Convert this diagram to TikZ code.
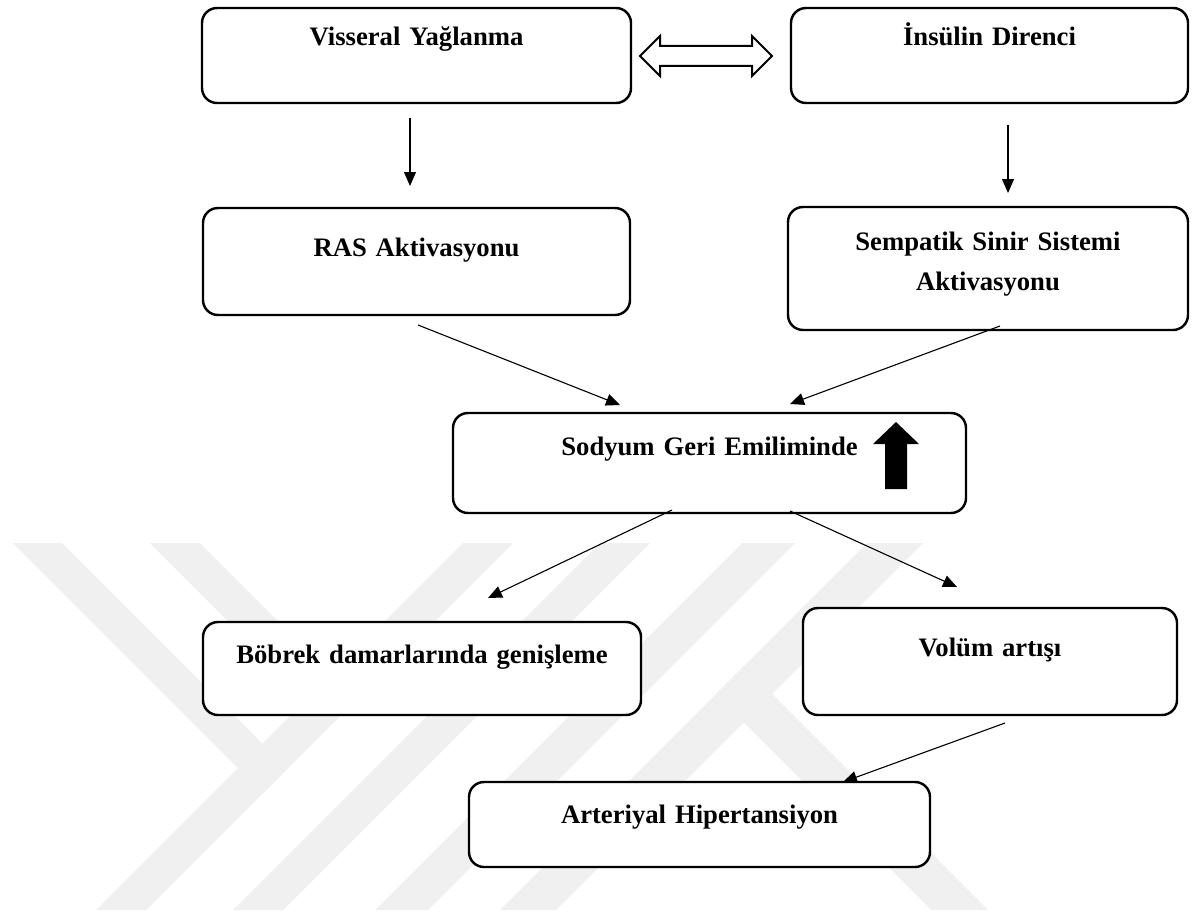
\documentclass[tikz,border=0pt]{standalone}
\usepackage{fontspec}
\setmainfont{Liberation Serif}
\usetikzlibrary{arrows.meta}

\begin{document}
\begin{tikzpicture}[x=0.45pt,y=-0.45pt,
  box/.style={draw, line width=1.1pt, rounded corners=6.75pt, fill=white, inner sep=0pt,
    anchor=base, align=center, font=\bfseries\fontsize{12pt}{18pt}\selectfont},
  link/.style={line width=0.5pt, -{Triangle[length=6.3pt,width=5.4pt]}},
  wm/.style={fill=black!6}]
  \fill[white] (0,0) rectangle (1192,914);
  \useasboundingbox (0,0) rectangle (1192,914);

  %% watermark stripes
  \begin{scope}
    \clip (0,543) rectangle (1192,910);
    \fill[wm] (463,543) -- (513,543) -- (146,910) -- (96,910) -- cycle;
    \fill[wm] (600,543) -- (650,543) -- (283,910) -- (233,910) -- cycle;
    \fill[wm] (742,543) -- (795,543) -- (428,910) -- (375,910) -- cycle;
    \fill[wm] (867,543) -- (923,543) -- (556,910) -- (500,910) -- cycle;
    \fill[wm] (13,543) -- (62,543) -- (287.5,768.5) -- (263,793) -- cycle;
    \fill[wm] (150,543) -- (200,543) -- (356.5,699.5) -- (331.5,724.5) -- cycle;
    \fill[wm] (715.5,694.5) -- (744,666) -- (988,910) -- (931,910) -- cycle;
  \end{scope}

  \node[box, text width=193.05pt, text height=17.1pt, text depth=25.65pt] (vis) at (416.5,46) {Visseral Yağlanma};
  \node[box, text width=178.65pt, text height=17.1pt, text depth=25.65pt] (ins) at (989.5,46) {İnsülin Direnci};
  \node[box, text width=192.15pt, text height=21.6pt, text depth=26.55pt] (ras) at (416.5,256) {RAS Aktivasyonu};
  \node[box, text width=180pt, text height=19.35pt, text depth=36pt] (sem) at (988,250) {Sempatik Sinir Sistemi\\Aktivasyonu};
  \node[box, text width=230.85pt, text height=18.9pt, text depth=26.1pt] (sod) at (709.5,455) {Sodyum Geri Emiliminde};
  \node[box, text width=197.1pt, text height=18.45pt, text depth=23.4pt] (bob) at (422,663) {Böbrek damarlarında genişleme};
  \node[box, text width=168.3pt, text height=21.6pt, text depth=26.55pt] (vol) at (990,656) {Volüm artışı};
  \node[box, text width=207.45pt, text height=18.45pt, text depth=19.8pt] (art) at (699.5,823) {Arteriyal Hipertansiyon};

  % hollow double arrow and the thick up arrow
  \draw[line width=0.9pt, line join=miter] (640,56) -- (660,36) -- (660,46) -- (752,46) -- (752,36) -- (772,56)
    -- (752,76) -- (752,66) -- (660,66) -- (660,76) -- cycle;
  \fill (896,422) -- (919,444) -- (907,444) -- (907,489) -- (885,489) -- (885,444) -- (873,444) -- cycle;

  \coordinate (vis-out) at (410,118);
  \coordinate (ras-in) at (410,186);
  \coordinate (ins-out) at (1008,125);
  \coordinate (sem-in) at (1008,193);
  \coordinate (ras-out) at (418,325);
  \coordinate (sod-in-l) at (620,405);
  \coordinate (sem-out) at (1000,326);
  \coordinate (sod-in-r) at (790,404);
  \coordinate (sod-out-l) at (672,510);
  \coordinate (bob-in) at (488,598);
  \coordinate (sod-out-r) at (790,511);
  \coordinate (vol-in) at (957,587);
  \coordinate (vol-out) at (1005,723);
  \coordinate (art-in) at (843,782);

  \draw[link] (vis-out) -- (ras-in);
  \draw[link] (ins-out) -- (sem-in);
  \draw[link] (ras-out) -- (sod-in-l);
  \draw[link] (sem-out) -- (sod-in-r);
  \draw[link] (sod-out-l) -- (bob-in);
  \draw[link] (sod-out-r) -- (vol-in);
  \draw[link] (vol-out) -- (art-in);
\end{tikzpicture}
\end{document}
